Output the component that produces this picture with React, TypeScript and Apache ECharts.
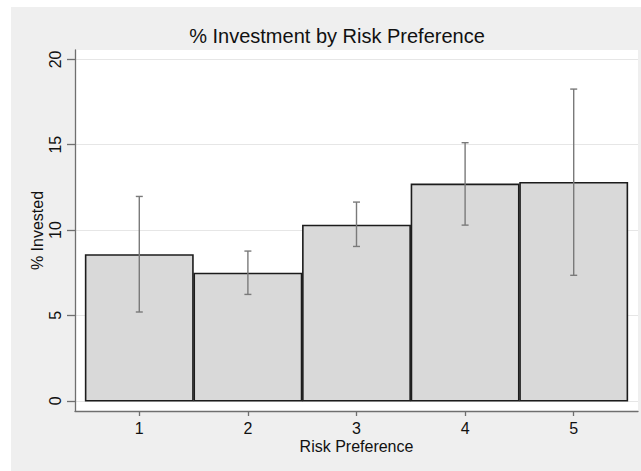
import React, { useEffect, useRef } from "react";
import * as echarts from "echarts";

const categories = [1, 2, 3, 4, 5];
const meanValues = [8.54, 7.46, 10.27, 12.68, 12.77];
const ciLower = [5.2, 6.23, 9.04, 10.29, 7.35];
const ciUpper = [11.97, 8.77, 11.64, 15.12, 18.26];
const yTicks = [0, 5, 10, 15, 20];

const titleText = "% Investment by Risk Preference";
const xAxisName = "Risk Preference";
const yAxisName = "% Invested";

const FONT = "'Liberation Sans', Arial, Helvetica, sans-serif";
const AXIS_COLOR = "#6f6f6f";
const TEXT_COLOR = "#111111";

export default function App() {
  const ref = useRef<HTMLDivElement>(null);

  useEffect(() => {
    if (!ref.current) return;
    const chart = echarts.init(ref.current, undefined, { renderer: "svg" });

    const barData = categories.map((c, i) => [c, meanValues[i]]);
    const errData = categories.map((c, i) => [c, ciLower[i], ciUpper[i]]);

    const option: any = {
      animation: false,
      textStyle: { fontFamily: FONT },
      title: {
        text: titleText,
        left: 332,
        top: 21,
        textAlign: "center",
        textStyle: { fontSize: 20, fontWeight: "normal", color: TEXT_COLOR, fontFamily: FONT },
      },
      grid: {
        left: 75,
        right: 3,
        top: 50,
        bottom: 60,
        show: true,
        backgroundColor: "#ffffff",
        borderWidth: 0,
      },
      xAxis: {
        type: "value",
        min: 0.408,
        max: 5.592,
        name: xAxisName,
        nameLocation: "middle",
        nameGap: 27,
        nameMoveOverlap: false,
        nameTextStyle: { fontSize: 16, color: TEXT_COLOR, fontFamily: FONT },
        axisLine: { show: true, onZero: false, lineStyle: { color: AXIS_COLOR, width: 1.3 } },
        axisTick: { show: true, length: 5, customValues: categories, lineStyle: { color: AXIS_COLOR, width: 1.3 } },
        axisLabel: { customValues: categories, fontSize: 16, color: TEXT_COLOR, margin: 9, fontFamily: FONT },
        splitLine: { show: false },
      },
      yAxis: {
        type: "value",
        min: -0.6,
        max: 20.55,
        name: yAxisName,
        nameLocation: "middle",
        nameGap: 30,
        nameMoveOverlap: false,
        nameTextStyle: { fontSize: 16, color: TEXT_COLOR, fontFamily: FONT },
        axisLine: { show: true, onZero: false, lineStyle: { color: AXIS_COLOR, width: 1.3 } },
        axisTick: { show: true, length: 8, customValues: yTicks, lineStyle: { color: AXIS_COLOR, width: 1.3 } },
        axisLabel: { customValues: yTicks, rotate: 90, fontSize: 16, color: TEXT_COLOR, margin: 12, fontFamily: FONT },
        splitLine: { show: true, customValues: yTicks, lineStyle: { color: "#e6e6e6", width: 1 } },
      },
      series: [
        {
          type: "custom",
          name: "bars",
          data: barData,
          encode: { x: 0, y: 1 },
          renderItem: (params: any, api: any) => {
            const x = api.value(0);
            const y = api.value(1);
            const p1 = api.coord([x - 0.494, y]);
            const p2 = api.coord([x + 0.494, 0]);
            return {
              type: "rect",
              shape: { x: p1[0], y: p1[1], width: p2[0] - p1[0], height: p2[1] - p1[1] },
              style: { fill: "#d9d9d9", stroke: "#1c1c1c", lineWidth: 1.6 },
            };
          },
        },
        {
          type: "custom",
          name: "ci",
          data: errData,
          encode: { x: 0, y: [1, 2] },
          z: 3,
          renderItem: (params: any, api: any) => {
            const x = api.value(0);
            const lo = api.coord([x, api.value(1)]);
            const hi = api.coord([x, api.value(2)]);
            const cap = 3.5;
            const st = { stroke: "#7a7a7a", lineWidth: 1.4 };
            return {
              type: "group",
              children: [
                { type: "line", shape: { x1: lo[0], y1: lo[1], x2: hi[0], y2: hi[1] }, style: st },
                { type: "line", shape: { x1: lo[0] - cap, y1: lo[1], x2: lo[0] + cap, y2: lo[1] }, style: st },
                { type: "line", shape: { x1: hi[0] - cap, y1: hi[1], x2: hi[0] + cap, y2: hi[1] }, style: st },
              ],
            };
          },
        },
      ],
    };

    chart.setOption(option);
    return () => chart.dispose();
  }, []);

  return (
    <div style={{ position: "fixed", left: 0, top: 0, width: 641, height: 471, background: "#ffffff" }}>
      <div style={{ position: "absolute", left: 11, top: 7, width: 630, height: 464, background: "#efefef" }} />
      <div ref={ref} style={{ position: "absolute", left: 0, top: 0, width: 641, height: 471 }} />
    </div>
  );
}
